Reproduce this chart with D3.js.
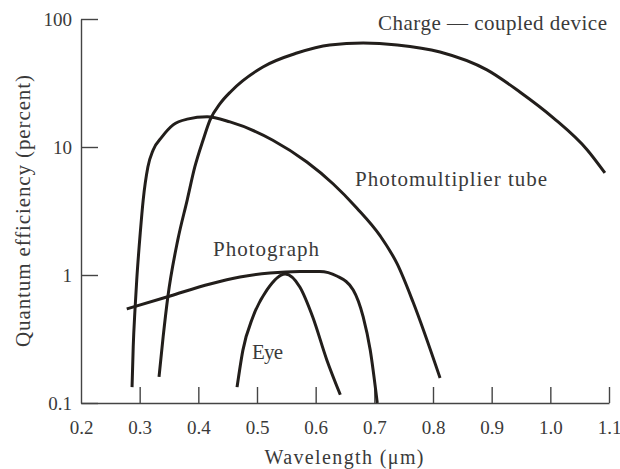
<!DOCTYPE html>
<html>
<head>
<meta charset="utf-8">
<script src="https://cdn.jsdelivr.net/npm/d3@7"></script>
<style>
	body { margin: 0; background: #fff; }
	text { font-family: "Liberation Serif", "Times New Roman", serif; fill: #3a3a3a; }
</style>
</head>
<body>
<div id="chart"></div>
<script>
const width = 620, height = 469;

// tick labels
const xTicks = [0.2, 0.3, 0.4, 0.5, 0.6, 0.7, 0.8, 0.9, 1.0, 1.1];
const yTicks = [0.1, 1, 10, 100];

// curves: [wavelength (um), quantum efficiency (%)]
const ccd = [
	[0.333, 0.160], [0.340, 0.328], [0.348, 0.673], [0.365, 1.88], [0.381, 3.85],
	[0.394, 6.98], [0.408, 11.3], [0.420, 16.3], [0.437, 21.8], [0.456, 27.3],
	[0.510, 42.2], [0.568, 54.2], [0.624, 62.7], [0.681, 64.9], [0.739, 62.7],
	[0.812, 55.2], [0.892, 40.0], [0.948, 26.9], [1.005, 16.9], [1.063, 9.48],
	[1.093, 6.27]
];
const pmt = [
	[0.287, 0.133], [0.289, 0.274], [0.292, 0.533], [0.295, 0.914], [0.301, 2.13],
	[0.306, 3.85], [0.314, 6.98], [0.323, 9.48], [0.338, 12.0], [0.357, 14.9],
	[0.381, 16.5], [0.415, 17.2], [0.454, 15.7], [0.527, 11.3], [0.585, 7.63],
	[0.630, 5.14], [0.670, 3.34], [0.710, 2.02], [0.739, 1.22], [0.766, 0.615],
	[0.812, 0.157]
];
const photograph = [
	[0.278, 0.543], [0.352, 0.686], [0.420, 0.851], [0.471, 0.964], [0.522, 1.037],
	[0.573, 1.066], [0.607, 1.066], [0.636, 0.982], [0.664, 0.764], [0.681, 0.470],
	[0.693, 0.259], [0.705, 0.1]
];
const eye = [
	[0.466, 0.133], [0.476, 0.259], [0.493, 0.470], [0.517, 0.764], [0.548, 1.018],
	[0.573, 0.806], [0.595, 0.470], [0.619, 0.217], [0.642, 0.116]
];

const svg = d3.select("#chart")
	.append("svg")
	.attr("width", width)
	.attr("height", height);

const x = d3.scaleLinear().domain([0.2, 1.1]).range([81, 609]);
const y = d3.scaleLog().domain([0.1, 100]).range([403, 19]);

// axes
const xAxis = svg.append("g")
	.attr("transform", `translate(0, ${y(0.1)})`)
	.call(d3.axisBottom(x)
		.tickValues(xTicks)
		.tickFormat(d3.format(".1f"))
		.tickSizeInner(-16)
		.tickSizeOuter(0)
		.tickPadding(18));

const yAxis = svg.append("g")
	.attr("transform", `translate(${x(0.2)}, 0)`)
	.call(d3.axisLeft(y)
		.tickValues(yTicks)
		.tickFormat((d) => d < 1 ? d.toFixed(1) : String(d))
		.tickSizeInner(-17)
		.tickSizeOuter(0)
		.tickPadding(9));

svg.selectAll(".domain, .tick line")
	.attr("stroke", "#444")
	.attr("stroke-width", 1.4);

svg.selectAll(".tick text")
	.attr("font-size", 19)
	.attr("font-family", "Liberation Serif, serif")
	.attr("fill", "#3a3a3a");

// the 0.2 tick sits on the y axis
xAxis.selectAll(".tick line").filter((d) => d === 0.2).remove();

// curves
const line = d3.line()
	.x((d) => x(d[0]))
	.y((d) => y(d[1]))
	.curve(d3.curveMonotoneX);

[ccd, pmt, photograph, eye].forEach(function(series){
	svg.append("path")
		.datum(series)
		.attr("fill", "none")
		.attr("stroke", "#221e1b")
		.attr("stroke-width", 3)
		.attr("d", line);
});

// curve labels
const labels = [
	{text: "Charge \u2014 coupled device", x: 378, y: 30, len: 229},
	{text: "Photomultiplier tube", x: 355, y: 186, len: 192},
	{text: "Photograph", x: 213, y: 256, len: 106},
	{text: "Eye", x: 252, y: 359, len: 31}
];

svg.selectAll(".label")
	.data(labels)
	.enter()
	.append("text")
	.classed("label", true)
	.attr("x", (d) => d.x)
	.attr("y", (d) => d.y)
	.attr("font-size", 21)
	.attr("textLength", (d) => d.len)
	.attr("lengthAdjust", "spacing")
	.text((d) => d.text);

// axis titles
svg.append("text")
	.attr("x", 344)
	.attr("y", 464)
	.attr("text-anchor", "middle")
	.attr("font-size", 20)
	.attr("textLength", 159)
	.attr("lengthAdjust", "spacing")
	.text("Wavelength (\u03bcm)");

svg.append("text")
	.attr("transform", "translate(30, 211) rotate(-90)")
	.attr("text-anchor", "middle")
	.attr("font-size", 21)
	.attr("textLength", 272)
	.attr("lengthAdjust", "spacing")
	.text("Quantum efficiency (percent)");
</script>
</body>
</html>
